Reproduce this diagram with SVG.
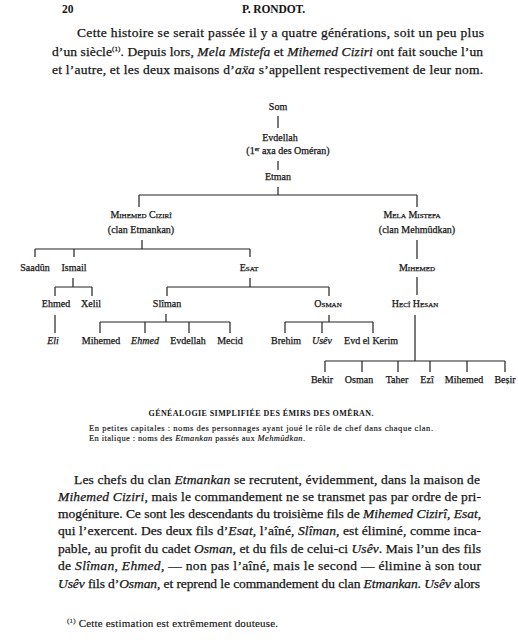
<svg xmlns="http://www.w3.org/2000/svg" width="518" height="640" viewBox="0 0 518 640">
<style>
.bg{fill:#ffffff}
text{font-family:"Liberation Serif","DejaVu Serif",serif;fill:#141414}
.hd{font-size:11.5px;font-weight:bold}
.p{font-size:13.5px;stroke:#141414;stroke-width:0.25}
.t{font-size:10px;text-anchor:middle;stroke:#141414;stroke-width:0.25}
.sc{font-variant:small-caps}
.it{font-style:italic}
.cap{font-size:8.5px;stroke:#141414;stroke-width:0.15}
.ttl{font-size:8px;font-weight:bold;text-anchor:middle}
.fn{font-size:11px;stroke:#141414;stroke-width:0.15}
.sup{font-size:7px}
.ln{fill:none;stroke:#222;stroke-width:1.2}
</style>
<rect class="bg" x="0" y="0" width="518" height="640"/>

<g id="header">
<text class="hd" x="62" y="13">20</text>
<text class="hd" x="273.5" y="13" text-anchor="middle" textLength="63">P. RONDOT.</text>
</g>

<g id="para-top">
<text class="p" x="77" y="37" textLength="407">Cette histoire se serait passée il y a quatre générations, soit un peu plus</text>
<text class="p" x="52" y="56" textLength="431">d’un siècle<tspan class="sup" dy="-5">(1)</tspan><tspan dy="5">. Depuis lors, </tspan><tspan class="it">Mela Mistefa</tspan> et <tspan class="it">Mihemed Ciziri</tspan> ont fait souche l’un</text>
<text class="p" x="52" y="74" textLength="431">et l’autre, et les deux maisons d’<tspan class="it">aẍa</tspan> s’appellent respectivement de leur nom.</text>
</g>

<g id="connectors">
<path class="ln" d="M278 116V128 M278 161V170 M278 187V195 M139 195H417 M139 195V207 M417 195V207"/>
<path class="ln" d="M142 240V249 M35 249H250 M35 249V257 M74 249V257 M250 249V257"/>
<path class="ln" d="M73 278V287 M55 287H92 M55 287V296 M92 287V296"/>
<path class="ln" d="M250 278V287 M167 287H329 M167 287V296 M329 287V296"/>
<path class="ln" d="M55 315V333"/>
<path class="ln" d="M166 314V322 M100 322H230 M100 322V333 M145 322V333 M189 322V333 M230 322V333"/>
<path class="ln" d="M329 315V322 M285 322H373 M285 322V333 M322 322V333 M373 322V333"/>
<path class="ln" d="M417 240V259 M417 277V295 M415 315V361 M325 361H505 M325 361V372 M362 361V372 M398 361V372 M430 361V372 M467 361V372 M505 361V372"/>
</g>

<g id="n-som"><text class="t" x="278" y="110">Som</text></g>
<g id="n-evdellah"><text class="t" x="280" y="141">Evdellah</text>
<text class="t" x="288" y="154">(1<tspan font-size="6" dy="-3">er</tspan><tspan dy="3"> axa des Oméran)</tspan></text></g>
<g id="n-etman"><text class="t" x="278" y="180">Etman</text></g>

<g id="n-mihemed-ciziri"><text class="t sc" x="141" y="218">Mihemed Cizirî</text>
<text class="t" x="141" y="233">(clan Etmankan)</text></g>
<g id="n-mela-mistefa"><text class="t sc" x="412" y="218">Mela Mistefa</text>
<text class="t" x="417" y="233">(clan Mehmûdkan)</text></g>

<g id="n-saadun"><text class="t" x="35" y="271">Saadûn</text></g>
<g id="n-ismail"><text class="t" x="74" y="271">Ismail</text></g>
<g id="n-esat"><text class="t sc" x="249" y="271">Esat</text></g>
<g id="n-mihemed-r"><text class="t sc" x="417" y="271">Mihemed</text></g>

<g id="n-ehmed"><text class="t" x="56" y="307">Ehmed</text></g>
<g id="n-xelil"><text class="t" x="91" y="307">Xelil</text></g>
<g id="n-sliman"><text class="t" x="167" y="307">Slîman</text></g>
<g id="n-osman"><text class="t sc" x="328" y="307">Osman</text></g>
<g id="n-heci-hesan"><text class="t sc" x="415" y="307">Hecî Hesan</text></g>

<g id="n-eli"><text class="t it" x="53" y="344">Eli</text></g>
<g id="n-mihemed-s"><text class="t" x="101" y="344">Mihemed</text></g>
<g id="n-ehmed-s"><text class="t it" x="145" y="344">Ehmed</text></g>
<g id="n-evdellah-s"><text class="t" x="188" y="344">Evdellah</text></g>
<g id="n-mecid"><text class="t" x="230" y="344">Mecid</text></g>
<g id="n-brehim"><text class="t" x="286" y="344">Brehim</text></g>
<g id="n-usev"><text class="t it" x="322" y="344">Usêv</text></g>
<g id="n-evd-el-kerim"><text class="t" x="371" y="344">Evd el Kerim</text></g>

<g id="n-bekir"><text class="t" x="322" y="383">Bekir</text></g>
<g id="n-osman-h"><text class="t" x="359" y="383">Osman</text></g>
<g id="n-taher"><text class="t" x="397" y="383">Taher</text></g>
<g id="n-ezi"><text class="t" x="427" y="383">Ezî</text></g>
<g id="n-mihemed-h"><text class="t" x="464" y="383">Mihemed</text></g>
<g id="n-besir"><text class="t" x="505" y="383">Beṣir</text></g>

<g id="caption">
<text class="ttl" x="261" y="416" textLength="225">GÉNÉALOGIE SIMPLIFIÉE DES ÉMIRS DES OMÊRAN.</text>
<text class="cap" x="89" y="431" textLength="344">En petites capitales : noms des personnages ayant joué le rôle de chef dans chaque clan.</text>
<text class="cap" x="89" y="441" textLength="216">En italique : noms des <tspan class="it">Etmankan</tspan> passés aux <tspan class="it">Mehmûdkan</tspan>.</text>
</g>

<g id="para-bottom">
<text class="p" x="74" y="484" textLength="406">Les chefs du clan <tspan class="it">Etmankan</tspan> se recrutent, évidemment, dans la maison de</text>
<text class="p" x="58" y="501" textLength="423"><tspan class="it">Mihemed Ciziri</tspan>, mais le commandement ne se transmet pas par ordre de pri-</text>
<text class="p" x="58" y="518" textLength="423">mogéniture. Ce sont les descendants du troisième fils de <tspan class="it">Mihemed Cizirî</tspan>, <tspan class="it">Esat</tspan>,</text>
<text class="p" x="58" y="535" textLength="423">qui l’exercent. Des deux fils d’<tspan class="it">Esat</tspan>, l’aîné, <tspan class="it">Slîman</tspan>, est éliminé, comme inca-</text>
<text class="p" x="58" y="553" textLength="423">pable, au profit du cadet <tspan class="it">Osman</tspan>, et du fils de celui-ci <tspan class="it">Usêv</tspan>. Mais l’un des fils</text>
<text class="p" x="58" y="570" textLength="423">de <tspan class="it">Slîman</tspan>, <tspan class="it">Ehmed</tspan>, — non pas l’aîné, mais le second — élimine à son tour</text>
<text class="p" x="58" y="588" textLength="422"><tspan class="it">Usêv</tspan> fils d’<tspan class="it">Osman</tspan>, et reprend le commandement du clan <tspan class="it">Etmankan</tspan>. <tspan class="it">Usêv</tspan> alors</text>
</g>

<g id="footnote">
<text class="fn" x="67" y="627" textLength="211"><tspan class="sup" dy="-4">(1)</tspan><tspan dy="4"> Cette estimation est extrêmement douteuse.</tspan></text>
</g>
</svg>
